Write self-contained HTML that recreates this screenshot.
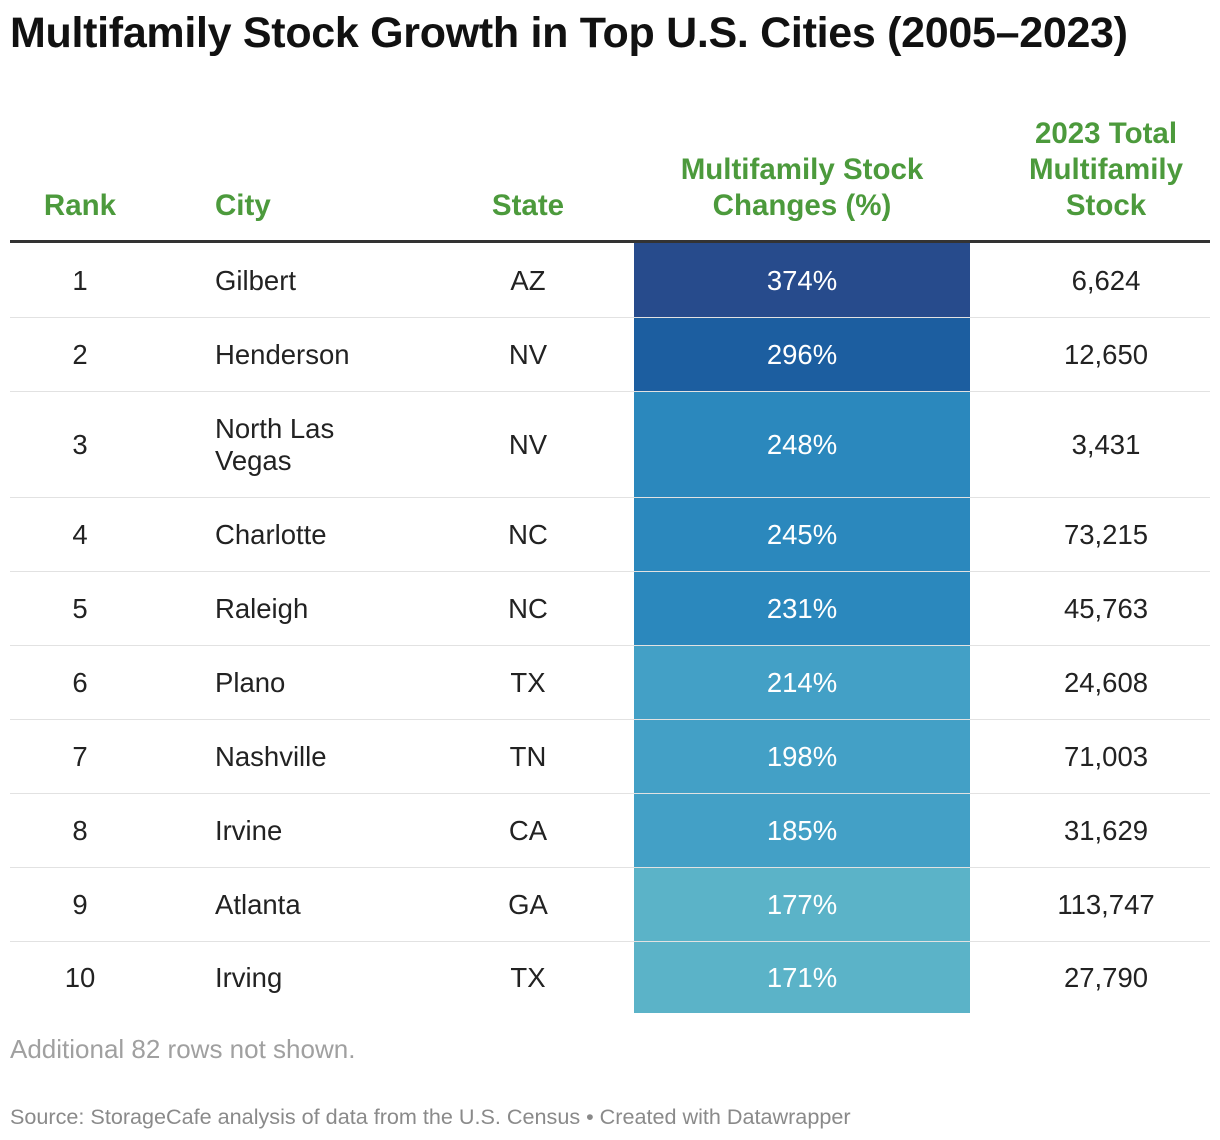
<!DOCTYPE html>
<html><head><meta charset="utf-8">
<style>
body{margin:0;width:1220px;height:1140px;background:#fff;font-family:"Liberation Sans",sans-serif;position:relative;overflow:hidden}
.abs{position:absolute}
#title{position:absolute;left:10px;top:9px;font-size:43px;font-weight:bold;color:#111;letter-spacing:-0.3px;white-space:nowrap}
.h{position:absolute;color:#4c9a3c;font-weight:bold;font-size:29.5px;line-height:36px;text-align:center}
.c{position:absolute;font-size:27.5px;color:#222;display:flex;align-items:center}
.sep{position:absolute;left:10px;width:1200px;height:1px;background:#e2e2e2}
</style></head><body>
<div id="title">Multifamily Stock Growth in Top U.S. Cities (2005–2023)</div>
<div class="h" style="left:10px;width:140px;top:188px">Rank</div>
<div class="h" style="left:215px;top:188px;text-align:left">City</div>
<div class="h" style="left:458px;width:140px;top:188px">State</div>
<div class="h" style="left:620px;width:364px;top:152px">Multifamily Stock<br>Changes (%)</div>
<div class="h" style="left:980px;width:252px;top:116px">2023 Total<br>Multifamily<br>Stock</div>
<div class="abs" style="left:10px;top:240px;width:1200px;height:3px;background:#333"></div>
<div id="rows"></div>
<div class="abs" style="left:10px;top:1034px;font-size:26px;color:#a0a0a0">Additional 82 rows not shown.</div>
<div class="abs" style="left:10px;top:1104px;font-size:21.6px;color:#8a8a8a">Source: StorageCafe analysis of data from the U.S. Census • Created with Datawrapper</div>
<script>
const ranks=[1,2,3,4,5,6,7,8,9,10];
const cities=["Gilbert","Henderson","North Las<br>Vegas","Charlotte","Raleigh","Plano","Nashville","Irvine","Atlanta","Irving"];
const states=["AZ","NV","NV","NC","NC","TX","TN","CA","GA","TX"];
const changes=[374,296,248,245,231,214,198,185,177,171];
const totals=["6,624","12,650","3,431","73,215","45,763","24,608","71,003","31,629","113,747","27,790"];
function colorFor(v){if(v>=350)return"#274b8c";if(v>=260)return"#1c5ea0";if(v>=220)return"#2b88bd";if(v>=180)return"#43a0c6";return"#5bb3c8";}
const root=document.getElementById('rows');
let y=243;
for(let i=0;i<ranks.length;i++){
  let h=cities[i].includes('<br>')?106:74;
  if(i===0)h=75;
  if(i===ranks.length-1)h=71;
  const row=document.createElement('div');
  
  
  const cell=(l,w,html,extra,name)=>{const d=document.createElement('div');d.className='c';d.style.cssText=`left:${l}px;width:${w}px;top:${y}px;height:${h}px;${extra}`;d.innerHTML=html;row.appendChild(d);return d;};
  cell(10,140,ranks[i],'justify-content:center','rank-cell');
  cell(215,240,'<span style="line-height:32px">'+cities[i]+'</span>','','city-cell');
  cell(458,140,states[i],'justify-content:center','state-cell');
  cell(634,336,changes[i]+'%','justify-content:center;color:#fff;background:'+colorFor(changes[i]),'change-cell');
  cell(980,252,totals[i],'justify-content:center','total-cell');
  y+=h;
  if(i<ranks.length-1){const s=document.createElement('div');s.className='sep';s.style.top=(y-1)+'px';row.appendChild(s);}
  root.appendChild(row);
}
</script>
</body></html>
